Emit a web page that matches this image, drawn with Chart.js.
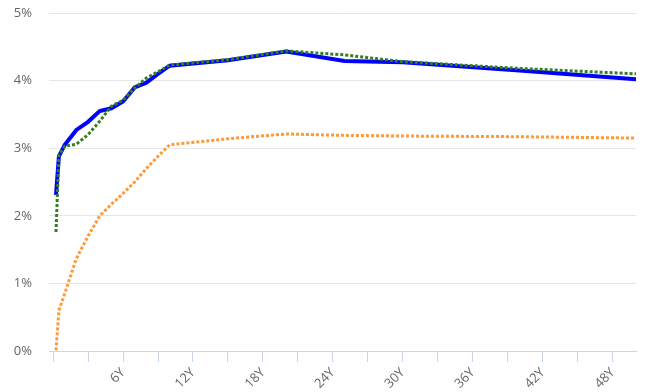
<!DOCTYPE html>
<html>
<head>
<meta charset="utf-8">
<script src="https://cdn.jsdelivr.net/npm/chart.js@4"></script>
<style>
  html, body { margin: 0; padding: 0; background: #fff; }
  #wrap { width: 663px; height: 392px; }
</style>
</head>
<body>
<div id="wrap"><canvas id="myChart"></canvas></div>
<script>
// maturities in years
var tenors = [0.25, 0.5, 1, 2, 3, 4, 5, 6, 7, 8, 9, 10, 15, 20, 25, 30, 40, 50];
var blueValues = [2.31, 2.88, 3.05, 3.27, 3.39, 3.55, 3.59, 3.69, 3.90, 3.97, 4.10, 4.22, 4.30, 4.43, 4.29, 4.27, 4.15, 4.02];
var greenValues = [1.76, 2.90, 3.03, 3.06, 3.20, 3.40, 3.62, 3.71, 3.89, 4.04, 4.13, 4.23, 4.31, 4.44, 4.38, 4.28, 4.18, 4.10];
var orangeValues = [0.01, 0.60, 0.85, 1.37, 1.70, 2.00, 2.17, 2.33, 2.50, 2.70, 2.88, 3.05, 3.14, 3.21, 3.19, 3.18, 3.17, 3.15];
var xTicks = [0, 3, 6, 9, 12, 15, 18, 21, 24, 27, 30, 33, 36, 39, 42, 45, 48];
var yTicks = [0, 1, 2, 3, 4, 5];

function pts(vals) {
    return tenors.map(function (t, i) { return { x: t, y: vals[i] }; });
}

var axisFont = { family: "'Open Sans', sans-serif", size: 13 };

new Chart("myChart", {
    type: "line",
    data: {
        datasets: [
            {
                data: pts(greenValues),
                borderColor: "#337f24",
                borderWidth: 3,
                borderDash: [3, 2],
                pointRadius: 0,
                fill: false,
            },
            {
                data: pts(blueValues),
                borderColor: "#0000ff",
                borderWidth: 4,
                pointRadius: 0,
                fill: false,
            },
            {
                data: pts(orangeValues),
                borderColor: "#ff9a3a",
                borderWidth: 3,
                borderDash: [3, 2],
                pointRadius: 0,
                fill: false,
            },
        ],
    },
    options: {
        responsive: true,
        maintainAspectRatio: false,
        animation: false,
        layout: {
            padding: { top: 13, right: 27, left: 0, bottom: 0 },
        },
        plugins: {
            legend: { display: false },
            tooltip: { enabled: false },
        },
        scales: {
            x: {
                type: "linear",
                min: -0.35,
                max: 50,
                afterBuildTicks: function (scale) {
                    scale.ticks = xTicks.map(function (v) { return { value: v }; });
                },
                afterFit: function (scale) {
                    scale.height = 41;
                },
                grid: {
                    drawOnChartArea: false,
                    drawTicks: true,
                    tickLength: 11,
                    color: "#ccd6eb",
                },
                border: { display: true, color: "#ccd6eb" },
                ticks: {
                    autoSkip: false,
                    minRotation: 45,
                    maxRotation: 45,
                    padding: 3,
                    color: "#666666",
                    font: axisFont,
                    callback: function (v) {
                        return v > 0 && v % 6 === 0 ? v + "Y" : "";
                    },
                },
            },
            y: {
                min: 0,
                max: 5,
                afterBuildTicks: function (scale) {
                    scale.ticks = yTicks.map(function (v) { return { value: v }; });
                },
                afterFit: function (scale) {
                    scale.width = 49;
                    scale.paddingTop = 0;
                    scale.paddingBottom = 0;
                },
                grid: {
                    color: "#e6e6e6",
                    drawTicks: false,
                },
                border: { display: false },
                ticks: {
                    padding: 17,
                    color: "#666666",
                    font: axisFont,
                    callback: function (v) {
                        return v + "%";
                    },
                },
            },
        },
    },
});
</script>
</body>
</html>
